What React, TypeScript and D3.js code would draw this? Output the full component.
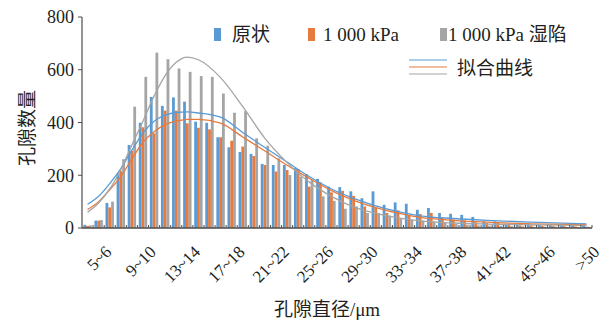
import { useEffect, useRef } from "react";
import * as d3 from "d3";

// 孔径分布 (pore size distribution)
const categories = [
  "4~5", "5~6", "6~7", "7~8", "8~9", "9~10", "10~11", "11~12", "12~13", "13~14",
  "14~15", "15~16", "16~17", "17~18", "18~19", "19~20", "20~21", "21~22", "22~23", "23~24",
  "24~25", "25~26", "26~27", "27~28", "28~29", "29~30", "30~31", "31~32", "32~33", "33~34",
  "34~35", "35~36", "36~37", "37~38", "38~39", "39~40", "40~41", "41~42", "42~43", "43~44",
  "44~45", "45~46", "46~47", "47~48", "48~50", ">50",
];
const tickLabels = ["5~6", "9~10", "13~14", "17~18", "21~22", "25~26", "29~30", "33~34", "37~38", "41~42", "45~46", ">50"];
const yTicks = [0, 200, 400, 600, 800];

const seriesNames = ["原状", "1 000 kPa", "1 000 kPa 湿陷"];
const original = [12, 28, 95, 205, 315, 399, 497, 463, 495, 479, 403, 399, 344, 306, 288, 281, 243, 239, 239, 227, 204, 186, 157, 155, 139, 113, 139, 88, 97, 92, 69, 76, 57, 54, 50, 42, 25, 25, 16, 18, 18, 12, 12, 10, 10, 16];
const loaded = [8, 28, 78, 217, 292, 382, 359, 445, 445, 397, 380, 374, 344, 331, 309, 273, 239, 214, 220, 223, 157, 173, 135, 141, 122, 82, 76, 57, 67, 47, 53, 57, 40, 32, 29, 22, 19, 21, 12, 10, 10, 8, 7, 7, 6, 5];
const collapsed = [10, 30, 100, 261, 460, 573, 665, 640, 605, 592, 576, 573, 510, 437, 443, 340, 312, 264, 201, 195, 183, 120, 103, 73, 82, 57, 57, 47, 38, 31, 28, 25, 19, 15, 12, 10, 9, 8, 7, 6, 5, 5, 5, 4, 4, 4];

// 拟合曲线, read at these category positions
const fitAt = [0, 1, 2, 3, 4, 5, 6, 7, 8, 9, 10, 12, 14, 16, 18, 20, 22, 24, 26, 28, 30, 33, 36, 40, 45];
const fitOriginal = [90, 120, 168, 225, 295, 360, 405, 428, 438, 440, 436, 420, 362, 305, 250, 195, 148, 112, 84, 62, 46, 36, 29, 22, 16];
const fitLoaded = [70, 100, 145, 195, 262, 325, 365, 392, 405, 412, 412, 398, 345, 292, 238, 188, 142, 105, 77, 56, 40, 29, 22, 16, 12];
const fitCollapsed = [60, 95, 148, 222, 315, 405, 500, 578, 628, 648, 638, 570, 460, 340, 248, 174, 120, 80, 55, 38, 27, 19, 15, 12, 10];

const COLORS = ["#5b9bd5", "#e57b3f", "#a5a5a5"];
const FONT = "'Liberation Serif', 'Noto Sans CJK SC', serif";
const TEXT = "#231f20";
const AXIS = "#4d4d4d";

export default function App() {
  const svgRef = useRef<SVGSVGElement>(null);
  const width = 603, height = 322;

  useEffect(() => {
    const svg = d3.select(svgRef.current);
    svg.selectAll("*").remove();

    const left = 82, right = 592, top = 17, bottom = 228;

    const x = d3.scaleBand<string>().domain(categories).range([left, right]).padding(0);
    const y = d3.scaleLinear().domain([0, 800]).range([bottom, top]);
    const xc = (i: number) => left + x.step() * (i + 0.5);

    const barW = 2.8;
    const series = [original, loaded, collapsed];

    // bars
    series.forEach((vals, s) => {
      svg.append("g").selectAll("rect").data(vals).join("rect")
        .attr("x", (_, i) => xc(i) + (s - 1.5) * barW)
        .attr("y", d => y(d))
        .attr("width", barW)
        .attr("height", d => bottom - y(d))
        .attr("fill", COLORS[s]);
    });

    // fit curves
    const fits = [fitOriginal, fitLoaded, fitCollapsed];
    fits.forEach((vals, s) => {
      const line = d3.line<number>()
        .x((_, i) => xc(fitAt[i]))
        .y(d => y(d))
        .curve(d3.curveMonotoneX);
      svg.append("path").datum(vals).attr("d", line)
        .attr("fill", "none").attr("stroke", COLORS[s]).attr("stroke-width", 1.3);
    });

    // y axis
    svg.append("line").attr("x1", left).attr("x2", left).attr("y1", top).attr("y2", bottom)
      .attr("stroke", AXIS).attr("stroke-width", 1.2);
    yTicks.forEach(t => {
      svg.append("line").attr("x1", left - 4).attr("x2", left).attr("y1", y(t)).attr("y2", y(t))
        .attr("stroke", AXIS);
      svg.append("text").attr("x", left - 8).attr("y", y(t)).attr("dy", "0.35em")
        .attr("text-anchor", "end").attr("font-size", 18).attr("fill", TEXT).text(t);
    });

    // x axis
    svg.append("line").attr("x1", left).attr("x2", right).attr("y1", bottom).attr("y2", bottom)
      .attr("stroke", AXIS).attr("stroke-width", 1.4);
    categories.forEach((_, i) => {
      const px = left + x.step() * (i + 1);
      svg.append("line").attr("x1", px).attr("x2", px).attr("y1", bottom).attr("y2", bottom - 3)
        .attr("stroke", AXIS);
    });
    tickLabels.forEach(lab => {
      const i = categories.indexOf(lab);
      const ax = xc(i) + 14, ay = 253;
      svg.append("text")
        .attr("transform", `translate(${ax},${ay}) rotate(-45)`)
        .attr("text-anchor", "end").attr("font-size", 17).attr("fill", TEXT).text(lab);
    });

    // axis titles
    svg.append("text")
      .attr("transform", `translate(34,128) rotate(-90)`)
      .attr("text-anchor", "middle").attr("font-size", 19).attr("fill", TEXT).text("孔隙数量");
    svg.append("text").attr("x", 327).attr("y", 316)
      .attr("text-anchor", "middle").attr("font-size", 19).attr("fill", TEXT).text("孔隙直径/μm");

    // legend
    const legendX = [214, 308, 440];
    const textX = [232, 323, 448];
    seriesNames.forEach((name, s) => {
      svg.append("rect").attr("x", legendX[s]).attr("y", 28).attr("width", 7).attr("height", 13)
        .attr("fill", COLORS[s]);
      svg.append("text").attr("x", textX[s]).attr("y", 41)
        .attr("font-size", 19).attr("fill", TEXT).text(name);
    });
    [60, 67, 74].forEach((ly, s) => {
      svg.append("line").attr("x1", 409).attr("x2", 447).attr("y1", ly).attr("y2", ly)
        .attr("stroke", COLORS[s]).attr("stroke-width", 1.2);
    });
    svg.append("text").attr("x", 457).attr("y", 75)
      .attr("font-size", 19).attr("fill", TEXT).text("拟合曲线");
  }, []);

  return (
    <svg ref={svgRef} width={width} height={height}
      style={{ position: "absolute", left: 0, top: 0, fontFamily: FONT, background: "#fff" }} />
  );
}
